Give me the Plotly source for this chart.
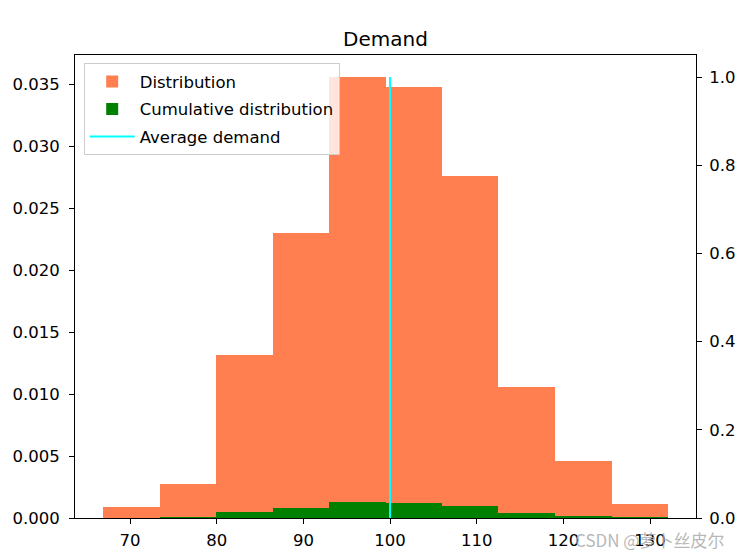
import plotly.graph_objects as go

# bordes de los bins (histograma de demanda)
bin_edges = [66.9, 73.45, 79.95, 86.45, 93.0, 99.5, 106.0, 112.5, 119.05, 125.55, 132.05]
# densidad por bin
distribucion = [0.00089, 0.00274, 0.01313, 0.02300, 0.03560, 0.03482, 0.02760, 0.01054, 0.00460, 0.00116]
# barras verdes
acumulada = [0.0, 0.00008, 0.00049, 0.00081, 0.00131, 0.00122, 0.00097, 0.00041, 0.00016, 0.00005]
demanda_media = 100

centros = [(a + b) / 2 for a, b in zip(bin_edges[:-1], bin_edges[1:])]
anchos = [b - a for a, b in zip(bin_edges[:-1], bin_edges[1:])]

fig = go.Figure()
fig.add_trace(go.Bar(x=centros, y=distribucion, width=anchos, name='Distribution', legendgroup='a',
                     marker=dict(color='#FF7F50', line=dict(width=0))))
fig.add_trace(go.Bar(x=centros, y=acumulada, width=anchos, name='Cumulative distribution', legendgroup='b',
                     marker=dict(color='green', line=dict(width=0))))
fig.add_trace(go.Scatter(x=[demanda_media, demanda_media], y=[0, 1], mode='lines', legendgroup='c',
                         name='Average demand', line=dict(color='cyan', width=2), yaxis='y2'))

eje = dict(showline=True, linecolor='black', linewidth=1.1, ticks='outside', ticklen=5,
           tickcolor='black', tickwidth=1.1, showgrid=False, zeroline=False, automargin=False,
           tickfont=dict(family='DejaVu Sans', size=16.5, color='black'))

# la pagina tiene 8px de margen en el body -> figura 739x549
fig.update_layout(
    width=739, height=549,
    margin=dict(l=67, r=51, t=47, b=39, autoexpand=False),
    plot_bgcolor='white', paper_bgcolor='white',
    barmode='overlay', bargap=0,
    title=dict(text='Demand', x=0.5, xref='paper', xanchor='center', y=1 - 30.5 / 549,
               yref='container', yanchor='middle',
               font=dict(family='DejaVu Sans', size=20, color='black')),
    xaxis=dict(eje, range=[63.65, 135.3], dtick=10, mirror=True, ticklabelstandoff=2),
    yaxis=dict(eje, range=[0, 0.03738], dtick=0.005, tickformat='.3f', ticklabelstandoff=6),
    yaxis2=dict(eje, range=[0, 1.05], dtick=0.2, tickformat='.1f', overlaying='y', side='right',
                ticklabelstandoff=4),
    legend=dict(x=0.014, y=0.982, xanchor='left', yanchor='top', tracegroupgap=3, itemwidth=45,
                bgcolor='rgba(255,255,255,0.8)', bordercolor='#cccccc', borderwidth=1,
                font=dict(family='DejaVu Sans', size=16.5, color='black')),
    showlegend=True,
)

fig.add_annotation(text='CSDN @萝卜丝皮尔', xref='paper', yref='paper', x=0.925, y=-0.047,
                   showarrow=False, xanchor='center', yanchor='middle',
                   font=dict(family='Noto Sans CJK SC', size=17, color='rgba(170,170,170,0.85)'))

fig.write_html('out.html')
